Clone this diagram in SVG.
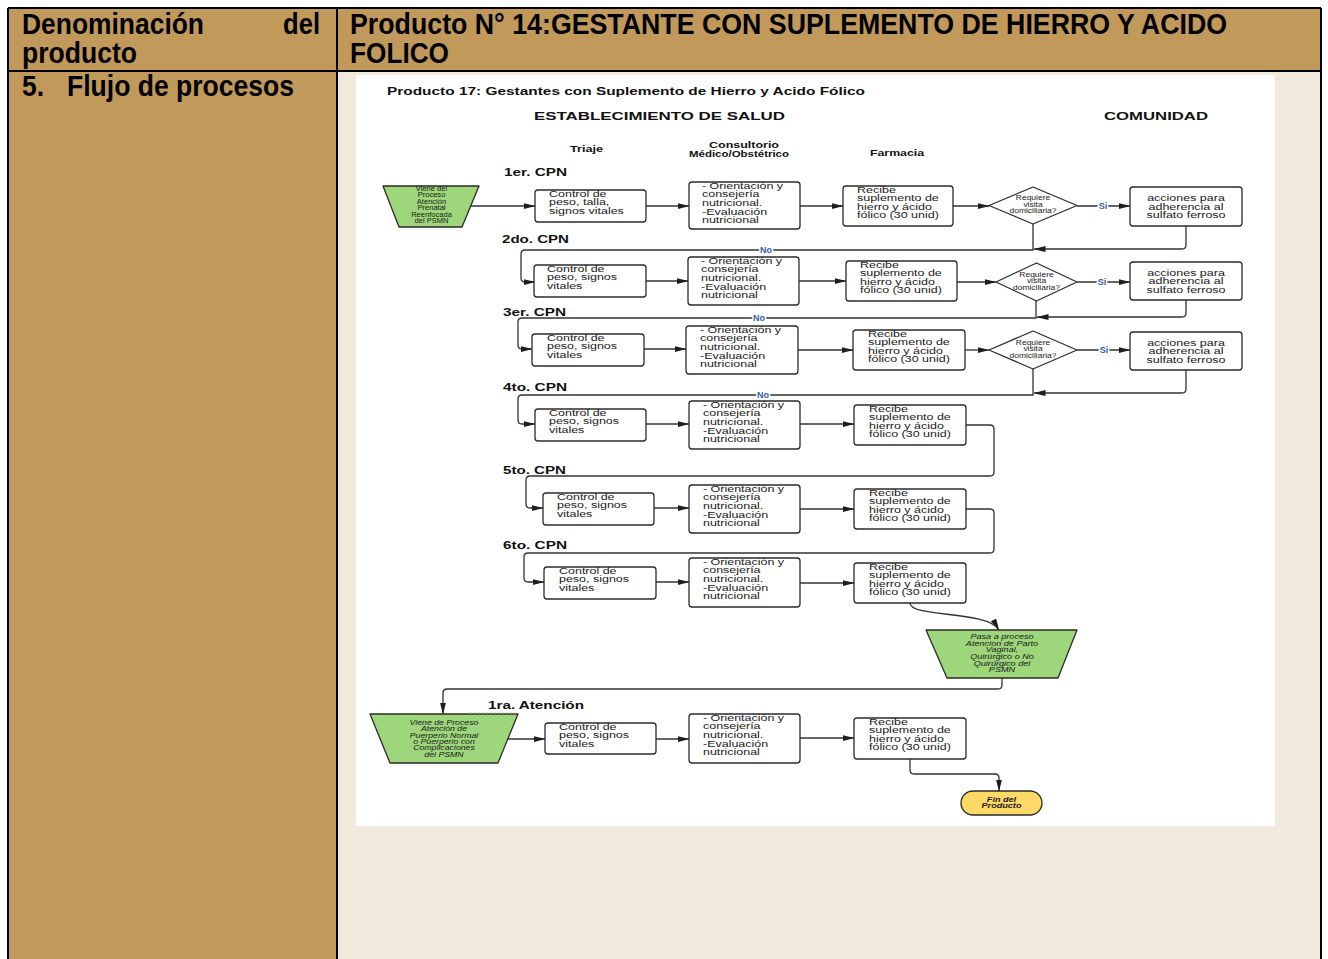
<svg xmlns="http://www.w3.org/2000/svg" width="1328" height="959" viewBox="0 0 1328 959">
  <style>
    .hd { font-family: "Liberation Sans", Arial, sans-serif; font-weight: bold; font-size: 29px; fill: #000; }
    .tt { font-family: "Liberation Sans", Arial, sans-serif; font-weight: bold; fill: #111; }
    .bt { font-family: "Liberation Sans", Arial, sans-serif; font-size: 9.6px; fill: #1a1a1a; }
    .dt { font-family: "Liberation Sans", Arial, sans-serif; font-size: 6.6px; fill: #1a1a1a; }
    .gt { font-family: "Liberation Sans", Arial, sans-serif; font-size: 7px; fill: #1a1a1a; }
    .gi { font-family: "Liberation Sans", Arial, sans-serif; font-size: 7px; font-style: italic; fill: #1a1a1a; }
    .fin { font-family: "Liberation Sans", Arial, sans-serif; font-size: 7px; font-weight: bold; font-style: italic; fill: #1a1a1a; }
    .box { fill: #fff; stroke: #2b2b2b; stroke-width: 1.3; }
    .dia { fill: #fff; stroke: #2b2b2b; stroke-width: 1.2; stroke-linejoin: round; }
    .grn { fill: #9ED67B; stroke: #2b2b2b; stroke-width: 1.3; stroke-linejoin: round; }
    .ln { fill: none; stroke: #333; stroke-width: 1.3; }
    .lbl { font-family: "Liberation Sans", Arial, sans-serif; font-weight: bold; font-size: 9px; fill: #3560A6; stroke: #fff; stroke-width: 3px; paint-order: stroke; }
  </style>
  <defs>
    <marker id="ah" markerWidth="12" markerHeight="6" refX="11.5" refY="3" orient="auto" markerUnits="userSpaceOnUse">
      <path d="M0,0 L12,3 L0,6 z" fill="#1e1e1e"/>
    </marker>
  </defs>

  <!-- page background -->
  <rect x="0" y="0" width="1328" height="959" fill="#fff"/>

  <!-- table frame -->
  <g id="table">
    <rect x="8" y="8" width="1313" height="63" fill="#C0995B"/>
    <rect x="8" y="71" width="329" height="888" fill="#C0995B"/>
    <rect x="337" y="71" width="984" height="888" fill="#F1E9DC"/>
    <rect x="356" y="75" width="919" height="751" fill="#fff"/>
    <path d="M8,8 H1321 M8,71 H1321 M8,8 V959 M337,8 V959 M1321,8 V959" fill="none" stroke="#000" stroke-width="2"/>
    <text class="hd" x="22" y="34" textLength="182" lengthAdjust="spacingAndGlyphs">Denominación</text>
    <text class="hd" x="283" y="34" textLength="37" lengthAdjust="spacingAndGlyphs">del</text>
    <text class="hd" x="22" y="63" textLength="115" lengthAdjust="spacingAndGlyphs">producto</text>
    <text class="hd" x="350" y="34" textLength="877" lengthAdjust="spacingAndGlyphs">Producto N° 14:GESTANTE CON SUPLEMENTO DE HIERRO Y ACIDO</text>
    <text class="hd" x="350" y="63" textLength="99" lengthAdjust="spacingAndGlyphs">FOLICO</text>
    <text class="hd" x="22" y="96" textLength="22" lengthAdjust="spacingAndGlyphs">5.</text>
    <text class="hd" x="67" y="96" textLength="227" lengthAdjust="spacingAndGlyphs">Flujo de procesos</text>
  </g>

  <!-- flowchart titles and lane headings -->
  <g id="titles">
    <text class="tt" x="387" y="95" font-size="11" textLength="478" lengthAdjust="spacingAndGlyphs">Producto 17: Gestantes con Suplemento de Hierro y Acido Fólico</text>
    <text class="tt" x="534" y="120" font-size="11.5" textLength="251" lengthAdjust="spacingAndGlyphs">ESTABLECIMIENTO DE SALUD</text>
    <text class="tt" x="1104" y="120" font-size="11.5" textLength="104" lengthAdjust="spacingAndGlyphs">COMUNIDAD</text>
    <text class="tt" x="570" y="152" font-size="9" textLength="33" lengthAdjust="spacingAndGlyphs">Triaje</text>
    <text class="tt" x="709" y="148" font-size="9" textLength="70" lengthAdjust="spacingAndGlyphs">Consultorio</text>
    <text class="tt" x="689" y="157" font-size="9" textLength="100" lengthAdjust="spacingAndGlyphs">Médico/Obstétrico</text>
    <text class="tt" x="870" y="156" font-size="9" textLength="54" lengthAdjust="spacingAndGlyphs">Farmacia</text>
    <text class="tt" x="504" y="176" font-size="11" textLength="63" lengthAdjust="spacingAndGlyphs">1er. CPN</text>
    <text class="tt" x="502" y="243" font-size="11" textLength="67" lengthAdjust="spacingAndGlyphs">2do. CPN</text>
    <text class="tt" x="503" y="316" font-size="11" textLength="63" lengthAdjust="spacingAndGlyphs">3er. CPN</text>
    <text class="tt" x="503" y="391" font-size="11" textLength="64" lengthAdjust="spacingAndGlyphs">4to. CPN</text>
    <text class="tt" x="503" y="474" font-size="11" textLength="63" lengthAdjust="spacingAndGlyphs">5to. CPN</text>
    <text class="tt" x="503" y="549" font-size="11" textLength="64" lengthAdjust="spacingAndGlyphs">6to. CPN</text>
    <text class="tt" x="488" y="709" font-size="11" textLength="96" lengthAdjust="spacingAndGlyphs">1ra. Atención</text>
  </g>

  <!-- connectors -->
  <g id="connectors" class="ln">
    <!-- 1er. CPN -->
    <path d="M470,206 H535" marker-end="url(#ah)"/>
    <path d="M646,206 H689" marker-end="url(#ah)"/>
    <path d="M800,206 H843" marker-end="url(#ah)"/>
    <path d="M953,206 H989" marker-end="url(#ah)"/>
    <path d="M1077,206 H1130" marker-end="url(#ah)"/>
    <path d="M1033,224 V250 H525 Q521,250 521,254 V278 Q521,282 525,282 H535" marker-end="url(#ah)"/>
    <path d="M1186,226 V245 Q1186,249 1182,249 H1034" marker-end="url(#ah)"/>
    <!-- 2do. CPN -->
    <path d="M646,281 H688" marker-end="url(#ah)"/>
    <path d="M799,281 H846" marker-end="url(#ah)"/>
    <path d="M957,282 H996" marker-end="url(#ah)"/>
    <path d="M1077,282 H1130" marker-end="url(#ah)"/>
    <path d="M1036,301 V318 H522 Q518,318 518,322 V345 Q518,349 522,349 H532" marker-end="url(#ah)"/>
    <path d="M1186,300 V313 Q1186,317 1182,317 H1037" marker-end="url(#ah)"/>
    <!-- 3er. CPN -->
    <path d="M644,349 H686" marker-end="url(#ah)"/>
    <path d="M798,350 H853" marker-end="url(#ah)"/>
    <path d="M965,350 H989" marker-end="url(#ah)"/>
    <path d="M1077,350 H1130" marker-end="url(#ah)"/>
    <path d="M1033,369 V395 H522 Q518,395 518,399 V420 Q518,424 522,424 H535" marker-end="url(#ah)"/>
    <path d="M1186,370 V389 Q1186,393 1182,393 H1034" marker-end="url(#ah)"/>
    <!-- 4to. CPN -->
    <path d="M646,424 H689" marker-end="url(#ah)"/>
    <path d="M800,424 H854" marker-end="url(#ah)"/>
    <path d="M966,425 H990 Q994,425 994,429 V472 Q994,476 990,476 H530 Q526,476 526,480 V504 Q526,508 530,508 H543" marker-end="url(#ah)"/>
    <!-- 5to. CPN -->
    <path d="M654,508 H689" marker-end="url(#ah)"/>
    <path d="M800,509 H854" marker-end="url(#ah)"/>
    <path d="M966,509 H990 Q994,509 994,513 V549 Q994,553 990,553 H528 Q524,553 524,557 V578 Q524,582 528,582 H544" marker-end="url(#ah)"/>
    <!-- 6to. CPN -->
    <path d="M656,582 H689" marker-end="url(#ah)"/>
    <path d="M800,583 H854" marker-end="url(#ah)"/>
    <path d="M910,603 C910,618 988,610 999,630" marker-end="url(#ah)"/>
    <!-- parto -> puerperio -->
    <path d="M1002,678 V685 Q1002,689 998,689 H447 Q443,689 443,693 V714" marker-end="url(#ah)"/>
    <!-- 1ra. Atención -->
    <path d="M508,739 H545" marker-end="url(#ah)"/>
    <path d="M656,739 H689" marker-end="url(#ah)"/>
    <path d="M800,738 H854" marker-end="url(#ah)"/>
    <path d="M910,759 V770 Q910,774 914,774 H995 Q999,774 999,778 V791" marker-end="url(#ah)"/>
    <!-- branch labels -->
    <text class="lbl" x="1103" y="208.5" text-anchor="middle">Si</text>
    <text class="lbl" x="1102" y="285" text-anchor="middle">Si</text>
    <text class="lbl" x="1104" y="353" text-anchor="middle">Si</text>
    <text class="lbl" x="766" y="253" text-anchor="middle">No</text>
    <text class="lbl" x="759" y="321" text-anchor="middle">No</text>
    <text class="lbl" x="763" y="398" text-anchor="middle">No</text>
  </g>

  <!-- ===== 1er. CPN ===== -->
  <g id="n1-inicio">
    <path class="grn" d="M383,186 L479,186 L462,227 L399,227 Z"/>
    <text class="gt" text-anchor="middle" transform="translate(431.5,190.8) scale(1.08,1)">
      <tspan x="0">Viene del</tspan><tspan x="0" dy="6.5">Proceso</tspan><tspan x="0" dy="6.5">Atención</tspan><tspan x="0" dy="6.5">Prenatal</tspan><tspan x="0" dy="6.5">Reenfocada</tspan><tspan x="0" dy="6.5">del  PSMN</tspan>
    </text>
  </g>
  <g id="n1-triaje">
    <rect class="box" x="535" y="190" width="111" height="32" rx="3"/>
    <text class="bt" transform="translate(549,196.6) scale(1.3,1)"><tspan x="0">Control de</tspan><tspan x="0" dy="8.7">peso, talla,</tspan><tspan x="0" dy="8.7">signos vitales</tspan></text>
  </g>
  <g id="n1-consultorio">
    <rect class="box" x="689" y="182" width="111" height="47" rx="3"/>
    <text class="bt" transform="translate(702,188.6) scale(1.3,1)"><tspan x="0">- Orientación y</tspan><tspan x="0" dy="8.7">consejería</tspan><tspan x="0" dy="8.7">nutricional.</tspan><tspan x="0" dy="8.7">-Evaluación</tspan><tspan x="0" dy="8.7">nutricional</tspan></text>
  </g>
  <g id="n1-farmacia">
    <rect class="box" x="843" y="186" width="110" height="40" rx="3"/>
    <text class="bt" transform="translate(857,192.6) scale(1.3,1)"><tspan x="0">Recibe</tspan><tspan x="0" dy="8.6">suplemento de</tspan><tspan x="0" dy="8.6">hierro y ácido</tspan><tspan x="0" dy="8.6">fólico (30 unid)</tspan></text>
  </g>
  <g id="n1-decision">
    <polygon class="dia" points="1033,187 1077,205.5 1033,224 989,205.5"/>
    <text class="dt" text-anchor="middle" transform="translate(1033,200) scale(1.28,1)"><tspan x="0">Requiere</tspan><tspan x="0" dy="6.7">visita</tspan><tspan x="0" dy="6.7">domiciliaria?</tspan></text>
  </g>
  <g id="n1-comunidad">
    <rect class="box" x="1130" y="187" width="112" height="39" rx="3"/>
    <text class="bt" text-anchor="middle" transform="translate(1186,201.2) scale(1.3,1)"><tspan x="0">acciones para</tspan><tspan x="0" dy="8.5">adherencia al</tspan><tspan x="0" dy="8.5">sulfato ferroso</tspan></text>
  </g>

  <!-- ===== 2do. CPN ===== -->
  <g id="n2-triaje">
    <rect class="box" x="534" y="265" width="112" height="32" rx="3"/>
    <text class="bt" transform="translate(547,271.6) scale(1.3,1)"><tspan x="0">Control de</tspan><tspan x="0" dy="8.7">peso, signos</tspan><tspan x="0" dy="8.7">vitales</tspan></text>
  </g>
  <g id="n2-consultorio">
    <rect class="box" x="688" y="257" width="111" height="48" rx="3"/>
    <text class="bt" transform="translate(701,263.6) scale(1.3,1)"><tspan x="0">- Orientación y</tspan><tspan x="0" dy="8.7">consejería</tspan><tspan x="0" dy="8.7">nutricional.</tspan><tspan x="0" dy="8.7">-Evaluación</tspan><tspan x="0" dy="8.7">nutricional</tspan></text>
  </g>
  <g id="n2-farmacia">
    <rect class="box" x="846" y="261" width="111" height="40" rx="3"/>
    <text class="bt" transform="translate(860,267.6) scale(1.3,1)"><tspan x="0">Recibe</tspan><tspan x="0" dy="8.6">suplemento de</tspan><tspan x="0" dy="8.6">hierro y ácido</tspan><tspan x="0" dy="8.6">fólico (30 unid)</tspan></text>
  </g>
  <g id="n2-decision">
    <polygon class="dia" points="1036.5,263 1077,282 1036.5,301 996,282"/>
    <text class="dt" text-anchor="middle" transform="translate(1036.5,276.5) scale(1.28,1)"><tspan x="0">Requiere</tspan><tspan x="0" dy="6.7">visita</tspan><tspan x="0" dy="6.7">domiciliaria?</tspan></text>
  </g>
  <g id="n2-comunidad">
    <rect class="box" x="1130" y="262" width="112" height="38" rx="3"/>
    <text class="bt" text-anchor="middle" transform="translate(1186,275.7) scale(1.3,1)"><tspan x="0">acciones para</tspan><tspan x="0" dy="8.5">adherencia al</tspan><tspan x="0" dy="8.5">sulfato ferroso</tspan></text>
  </g>

  <!-- ===== 3er. CPN ===== -->
  <g id="n3-triaje">
    <rect class="box" x="532" y="334" width="112" height="32" rx="3"/>
    <text class="bt" transform="translate(547,340.6) scale(1.3,1)"><tspan x="0">Control de</tspan><tspan x="0" dy="8.7">peso, signos</tspan><tspan x="0" dy="8.7">vitales</tspan></text>
  </g>
  <g id="n3-consultorio">
    <rect class="box" x="686" y="326" width="112" height="48" rx="3"/>
    <text class="bt" transform="translate(700,332.6) scale(1.3,1)"><tspan x="0">- Orientación y</tspan><tspan x="0" dy="8.7">consejería</tspan><tspan x="0" dy="8.7">nutricional.</tspan><tspan x="0" dy="8.7">-Evaluación</tspan><tspan x="0" dy="8.7">nutricional</tspan></text>
  </g>
  <g id="n3-farmacia">
    <rect class="box" x="853" y="330" width="112" height="40" rx="3"/>
    <text class="bt" transform="translate(868,336.6) scale(1.3,1)"><tspan x="0">Recibe</tspan><tspan x="0" dy="8.6">suplemento de</tspan><tspan x="0" dy="8.6">hierro y ácido</tspan><tspan x="0" dy="8.6">fólico (30 unid)</tspan></text>
  </g>
  <g id="n3-decision">
    <polygon class="dia" points="1033,331 1077,350 1033,369 989,350"/>
    <text class="dt" text-anchor="middle" transform="translate(1033,344.5) scale(1.28,1)"><tspan x="0">Requiere</tspan><tspan x="0" dy="6.7">visita</tspan><tspan x="0" dy="6.7">domiciliaria?</tspan></text>
  </g>
  <g id="n3-comunidad">
    <rect class="box" x="1130" y="332" width="112" height="38" rx="3"/>
    <text class="bt" text-anchor="middle" transform="translate(1186,345.7) scale(1.3,1)"><tspan x="0">acciones para</tspan><tspan x="0" dy="8.5">adherencia al</tspan><tspan x="0" dy="8.5">sulfato ferroso</tspan></text>
  </g>

  <!-- ===== 4to. CPN ===== -->
  <g id="n4-triaje">
    <rect class="box" x="535" y="409" width="111" height="32" rx="3"/>
    <text class="bt" transform="translate(549,415.6) scale(1.3,1)"><tspan x="0">Control de</tspan><tspan x="0" dy="8.7">peso, signos</tspan><tspan x="0" dy="8.7">vitales</tspan></text>
  </g>
  <g id="n4-consultorio">
    <rect class="box" x="689" y="401" width="111" height="48" rx="3"/>
    <text class="bt" transform="translate(703,407.6) scale(1.3,1)"><tspan x="0">- Orientación y</tspan><tspan x="0" dy="8.7">consejería</tspan><tspan x="0" dy="8.7">nutricional.</tspan><tspan x="0" dy="8.7">-Evaluación</tspan><tspan x="0" dy="8.7">nutricional</tspan></text>
  </g>
  <g id="n4-farmacia">
    <rect class="box" x="854" y="405" width="112" height="40" rx="3"/>
    <text class="bt" transform="translate(869,411.6) scale(1.3,1)"><tspan x="0">Recibe</tspan><tspan x="0" dy="8.6">suplemento de</tspan><tspan x="0" dy="8.6">hierro y ácido</tspan><tspan x="0" dy="8.6">fólico (30 unid)</tspan></text>
  </g>

  <!-- ===== 5to. CPN ===== -->
  <g id="n5-triaje">
    <rect class="box" x="543" y="493" width="111" height="32" rx="3"/>
    <text class="bt" transform="translate(557,499.6) scale(1.3,1)"><tspan x="0">Control de</tspan><tspan x="0" dy="8.7">peso, signos</tspan><tspan x="0" dy="8.7">vitales</tspan></text>
  </g>
  <g id="n5-consultorio">
    <rect class="box" x="689" y="485" width="111" height="48" rx="3"/>
    <text class="bt" transform="translate(703,491.6) scale(1.3,1)"><tspan x="0">- Orientación y</tspan><tspan x="0" dy="8.7">consejería</tspan><tspan x="0" dy="8.7">nutricional.</tspan><tspan x="0" dy="8.7">-Evaluación</tspan><tspan x="0" dy="8.7">nutricional</tspan></text>
  </g>
  <g id="n5-farmacia">
    <rect class="box" x="854" y="489" width="112" height="40" rx="3"/>
    <text class="bt" transform="translate(869,495.6) scale(1.3,1)"><tspan x="0">Recibe</tspan><tspan x="0" dy="8.6">suplemento de</tspan><tspan x="0" dy="8.6">hierro y ácido</tspan><tspan x="0" dy="8.6">fólico (30 unid)</tspan></text>
  </g>

  <!-- ===== 6to. CPN ===== -->
  <g id="n6-triaje">
    <rect class="box" x="544" y="567" width="112" height="32" rx="3"/>
    <text class="bt" transform="translate(559,573.6) scale(1.3,1)"><tspan x="0">Control de</tspan><tspan x="0" dy="8.7">peso, signos</tspan><tspan x="0" dy="8.7">vitales</tspan></text>
  </g>
  <g id="n6-consultorio">
    <rect class="box" x="689" y="558" width="111" height="49" rx="3"/>
    <text class="bt" transform="translate(703,564.6) scale(1.3,1)"><tspan x="0">- Orientación y</tspan><tspan x="0" dy="8.7">consejería</tspan><tspan x="0" dy="8.7">nutricional.</tspan><tspan x="0" dy="8.7">-Evaluación</tspan><tspan x="0" dy="8.7">nutricional</tspan></text>
  </g>
  <g id="n6-farmacia">
    <rect class="box" x="854" y="563" width="112" height="40" rx="3"/>
    <text class="bt" transform="translate(869,569.6) scale(1.3,1)"><tspan x="0">Recibe</tspan><tspan x="0" dy="8.6">suplemento de</tspan><tspan x="0" dy="8.6">hierro y ácido</tspan><tspan x="0" dy="8.6">fólico (30 unid)</tspan></text>
  </g>

  <!-- hand-off to delivery process -->
  <g id="n-parto">
    <path class="grn" d="M926,630 L1077,630 L1058,678 L947,678 Z"/>
    <text class="gi" text-anchor="middle" transform="translate(1002,639.3) scale(1.3,1)"><tspan x="0">Pasa a proceso</tspan><tspan x="0" dy="6.6">Atencion de Parto</tspan><tspan x="0" dy="6.6">Vaginal,</tspan><tspan x="0" dy="6.6">Quirúrgico o No</tspan><tspan x="0" dy="6.6">Quirúrgico del</tspan><tspan x="0" dy="6.6">PSMN</tspan></text>
  </g>

  <!-- ===== 1ra. Atención (puerperio) ===== -->
  <g id="n7-inicio">
    <path class="grn" d="M370,714 L518,714 L498,763 L390,763 Z"/>
    <path d="M470,713 H516" fill="none" stroke="#bbb" stroke-width="1" stroke-dasharray="2,2"/>
    <text class="gi" text-anchor="middle" transform="translate(444,724.8) scale(1.25,1)"><tspan x="0">Viene de Proceso</tspan><tspan x="0" dy="6.4">Atención de</tspan><tspan x="0" dy="6.4">Puerperio Normal</tspan><tspan x="0" dy="6.4">o Puerperio con</tspan><tspan x="0" dy="6.4">Complicaciones</tspan><tspan x="0" dy="6.4">del PSMN</tspan></text>
  </g>
  <g id="n7-triaje">
    <rect class="box" x="545" y="723" width="111" height="31" rx="3"/>
    <text class="bt" transform="translate(559,729.6) scale(1.3,1)"><tspan x="0">Control de</tspan><tspan x="0" dy="8.7">peso, signos</tspan><tspan x="0" dy="8.7">vitales</tspan></text>
  </g>
  <g id="n7-consultorio">
    <rect class="box" x="689" y="714" width="111" height="49" rx="3"/>
    <text class="bt" transform="translate(703,720.6) scale(1.3,1)"><tspan x="0">- Orientación y</tspan><tspan x="0" dy="8.7">consejería</tspan><tspan x="0" dy="8.7">nutricional.</tspan><tspan x="0" dy="8.7">-Evaluación</tspan><tspan x="0" dy="8.7">nutricional</tspan></text>
  </g>
  <g id="n7-farmacia">
    <rect class="box" x="854" y="718" width="112" height="41" rx="3"/>
    <text class="bt" transform="translate(869,724.6) scale(1.3,1)"><tspan x="0">Recibe</tspan><tspan x="0" dy="8.6">suplemento de</tspan><tspan x="0" dy="8.6">hierro y ácido</tspan><tspan x="0" dy="8.6">fólico (30 unid)</tspan></text>
  </g>

  <!-- terminator -->
  <g id="n-fin">
    <rect x="961" y="791" width="81" height="24" rx="12" fill="#FFD966" stroke="#2b2b2b" stroke-width="1.3"/>
    <text class="fin" text-anchor="middle" transform="translate(1001.5,801.5) scale(1.3,1)"><tspan x="0">Fin del</tspan><tspan x="0" dy="7">Producto</tspan></text>
  </g>
</svg>
